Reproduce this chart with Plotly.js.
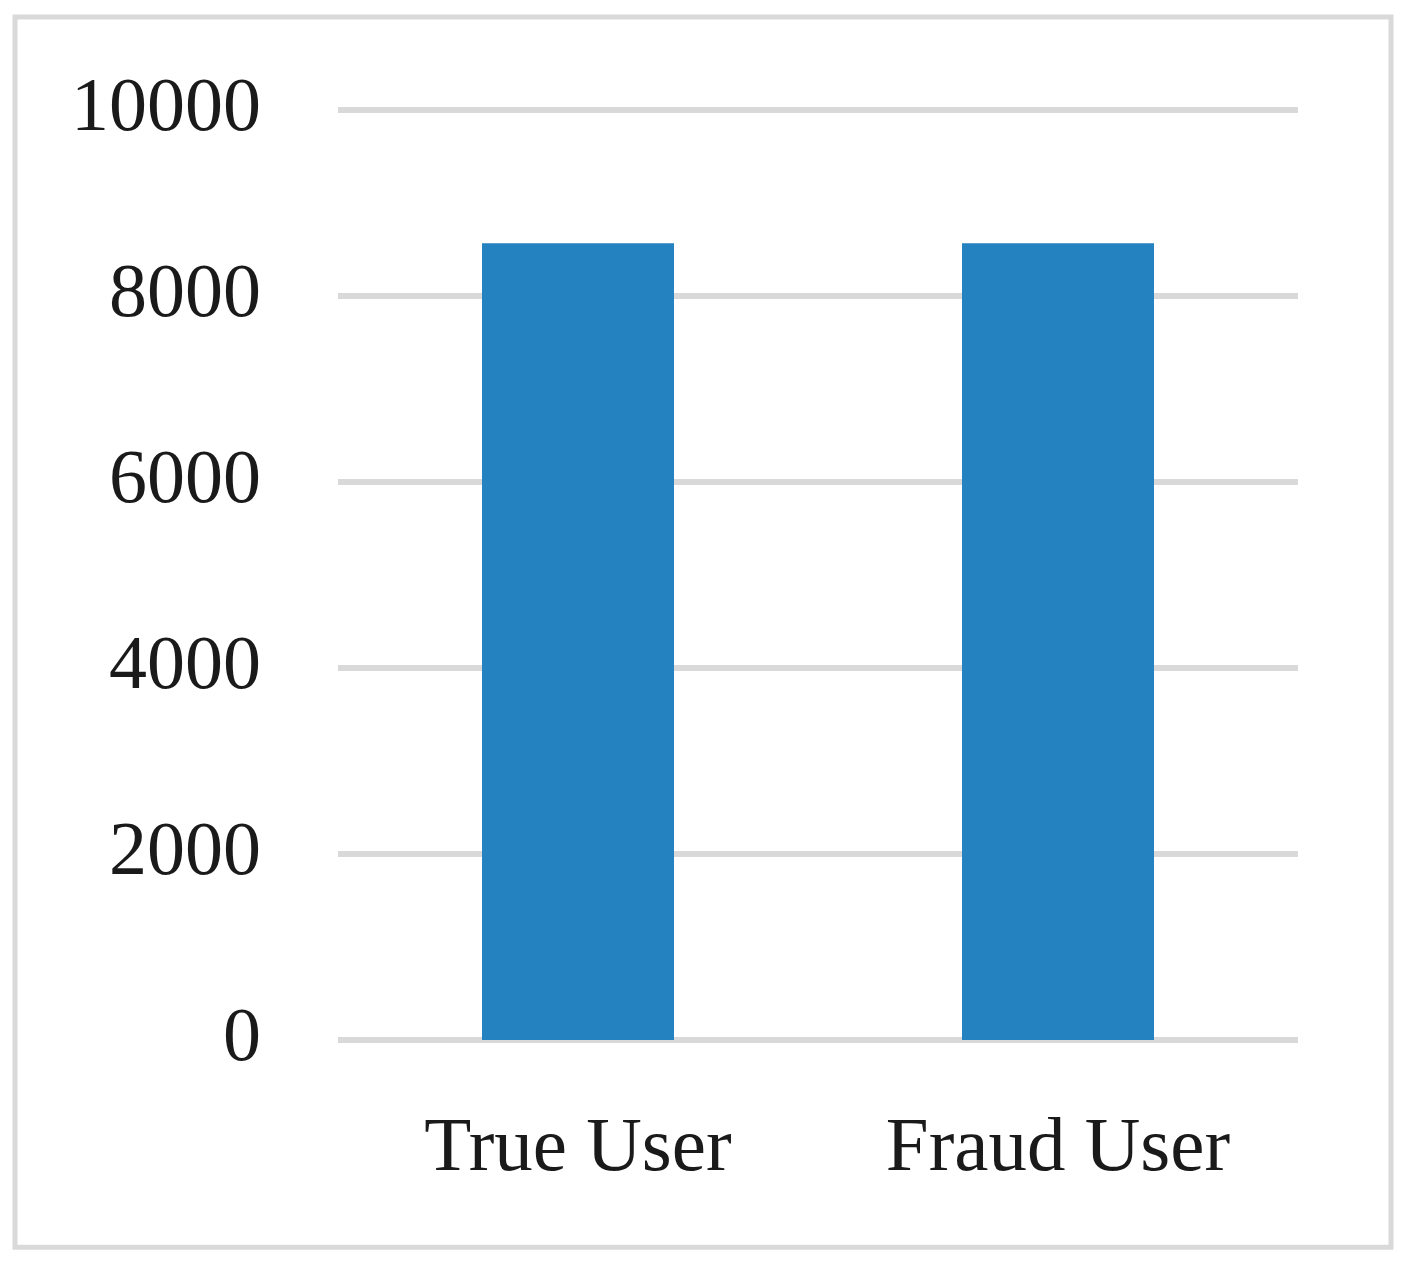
<!DOCTYPE html>
<html>
<head>
<meta charset="utf-8">
<script src="https://cdn.plot.ly/plotly-3.0.1.min.js"></script>
<style>
    html, body { margin: 0; padding: 0; background: #ffffff; }
    #chart { width: 1407px; height: 1272px; }
</style>
</head>
<body>
<div id="chart"></div>
<script>
    // Data
    const categories = ['True User', 'Fraud User'];
    const userCounts = [8566, 8566];
    const yTicks = [0, 2000, 4000, 6000, 8000, 10000];

    const barColor = '#2582c1';
    const gridColor = '#d9d9d9';
    const textColor = '#1a1a1a';
    const serif = '"Palatino Linotype", Palatino, "Book Antiqua", "Liberation Serif", serif';

    const W = 1407, H = 1272;
    const y0px = 1040.5, y10kpx = 109.5;
    const pad = 10; // extra pixels so the edge gridlines are drawn
    const unitsPerPx = 10000 / (y0px - y10kpx);
    const plotL = 338, plotR = 1298, plotT = y10kpx - pad, plotB = y0px + pad;
    const pw = plotR - plotL, ph = plotB - plotT;

    // outer frame, converted to paper coordinates
    const frame = { left: 15, right: 1391, top: 16.5, bottom: 1248 };

    const data = [{
        type: 'bar',
        x: categories,
        y: userCounts,
        marker: { color: barColor },
        hoverinfo: 'x+y'
    }];

    const layout = {
        width: W,
        height: H,
        margin: { l: plotL, r: W - plotR, t: plotT, b: H - plotB },
        paper_bgcolor: '#ffffff',
        plot_bgcolor: '#ffffff',
        showlegend: false,
        bargap: 0.6,
        font: { family: serif, color: textColor, size: 76 },
        xaxis: {
            type: 'category',
            showgrid: false,
            zeroline: false,
            showline: false,
            ticks: '',
            ticklabelstandoff: 42,
            tickfont: { family: serif, size: 77, color: textColor }
        },
        yaxis: {
            range: [-pad * unitsPerPx, 10000 + pad * unitsPerPx],
            tickvals: yTicks,
            ticktext: yTicks.map(String),
            showgrid: true,
            gridcolor: gridColor,
            gridwidth: 6,
            zeroline: false,
            showline: false,
            ticks: '',
            ticklabelstandoff: 76,
            ticklabelshift: -7,
            tickfont: { family: serif, size: 76, color: textColor }
        },
        shapes: [{
            type: 'rect',
            xref: 'paper',
            yref: 'paper',
            x0: (frame.left - plotL) / pw,
            x1: (frame.right - plotL) / pw,
            y0: (plotB - frame.bottom) / ph,
            y1: (plotB - frame.top) / ph,
            line: { color: gridColor, width: 5 },
            fillcolor: 'rgba(0,0,0,0)',
            layer: 'below'
        }]
    };

    Plotly.newPlot('chart', data, layout, { staticPlot: true });
</script>
</body>
</html>
